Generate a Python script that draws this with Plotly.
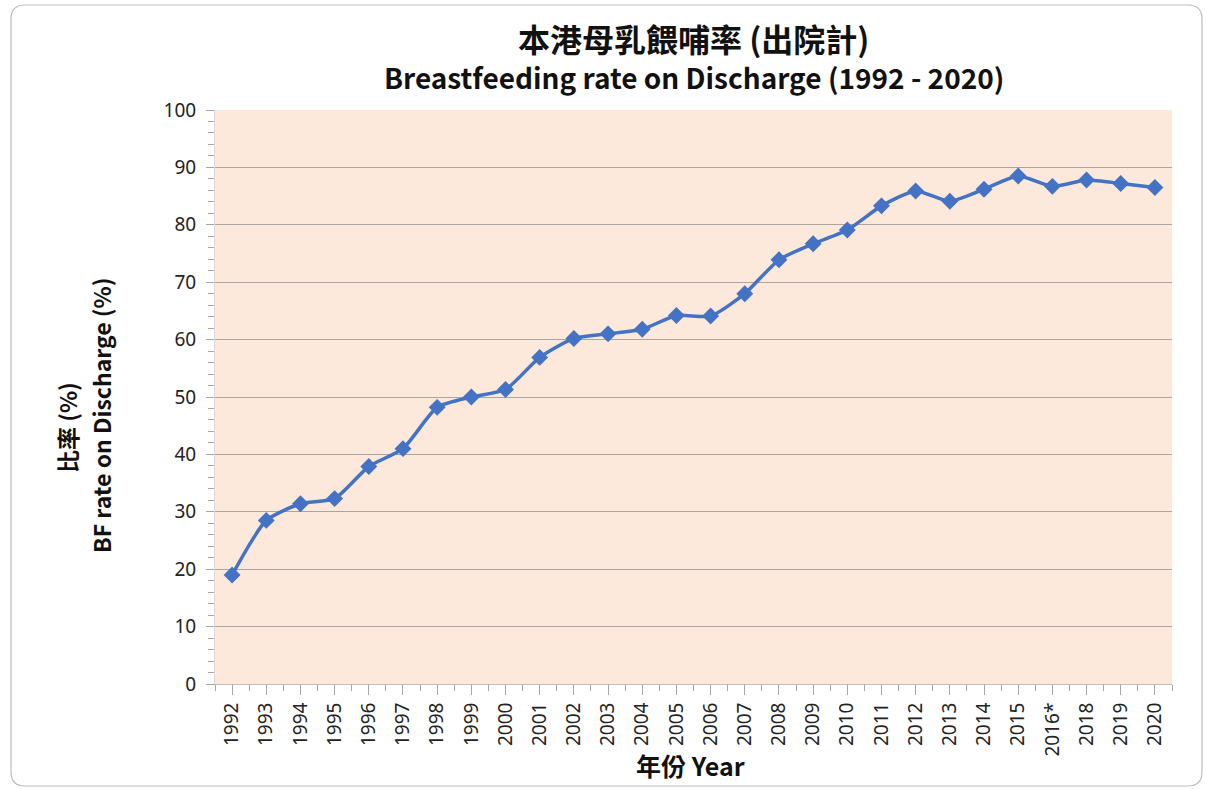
import plotly.graph_objects as go

years = ["1992", "1993", "1994", "1995", "1996", "1997", "1998", "1999", "2000",
         "2001", "2002", "2003", "2004", "2005", "2006", "2007", "2008", "2009",
         "2010", "2011", "2012", "2013", "2014", "2015", "2016*", "2018", "2019", "2020"]
bf_rate = [19.0, 28.5, 31.4, 32.3, 37.9, 41.0, 48.2, 50.0, 51.3,
           56.9, 60.2, 61.0, 61.8, 64.2, 64.1, 68.0, 73.9, 76.7,
           79.1, 83.3, 85.9, 84.1, 86.2, 88.5, 86.7, 87.8, 87.2, 86.5]

title_zh = "本港母乳餵哺率 (出院計)"
title_en = "Breastfeeding rate on Discharge (1992 - 2020)"
ytitle_zh = "比率 (%)"
ytitle_en = "BF rate on Discharge (%)"
xtitle = "年份 Year"

idx = list(range(len(years)))

W, H = 1206, 789
L, R, T, B = 215, 34, 110, 105
pw, ph = W - L - R, H - T - B

def px(x):
    return (x - L) / pw

def py(y):
    return (H - B - y) / ph

fig = go.Figure()
fig.add_trace(go.Scatter(
    x=idx, y=bf_rate, mode="lines+markers",
    line=dict(color="#4472C4", width=3.5, shape="spline", smoothing=0.6),
    marker=dict(symbol="diamond", size=13, color="#4472C4"),
    hoverinfo="x+y", showlegend=False,
))

font_txt = "Noto Sans CJK TC, Noto Sans, sans-serif"
tick_font = dict(family="Noto Sans, Open Sans, sans-serif", size=19, color="#222222")

fig.update_layout(
    width=W, height=H,
    margin=dict(l=L, r=R, t=T, b=B),
    paper_bgcolor="white",
    plot_bgcolor="#FCE9DB",
    xaxis=dict(
        range=[-0.5, len(years) - 0.5],
        tickmode="array", tickvals=idx, ticktext=years,
        tickangle=-90, tickfont=tick_font,
        ticks="outside", ticklen=10, tickcolor="#A6A6A6", tickwidth=1,
        minor=dict(tickmode="linear", tick0=-0.5, dtick=1, ticks="outside",
                   ticklen=6, tickcolor="#A6A6A6", showgrid=False),
        showgrid=False, zeroline=False,
        showline=True, linecolor="#BFBFBF", linewidth=1,
        fixedrange=True,
    ),
    yaxis=dict(
        range=[0, 100], dtick=10, tick0=0,
        tickfont=tick_font,
        ticks="outside", ticklen=8, tickcolor="#A6A6A6", tickwidth=1,
        ticklabelstandoff=6,
        minor=dict(dtick=2, ticks="outside", ticklen=6, tickcolor="#A6A6A6", showgrid=False),
        showgrid=True, gridcolor="#A9A5A2", gridwidth=1,
        zeroline=False,
        showline=True, linecolor="#D9D9D9", linewidth=1,
        fixedrange=True,
    ),
)

dark = "#111111"
fig.add_annotation(text=f"<b>{title_zh}</b>", x=0.5, y=py(38), xref="paper", yref="paper",
                   xanchor="center", yanchor="middle", showarrow=False,
                   font=dict(family=font_txt, size=32, color=dark))
fig.add_annotation(text=f"<b>{title_en}</b>", x=0.5, y=py(77), xref="paper", yref="paper",
                   xanchor="center", yanchor="middle", showarrow=False,
                   font=dict(family=font_txt, size=28, color=dark))
fig.add_annotation(text=f"<b>{ytitle_zh}</b>", x=px(67), y=py(428), xref="paper", yref="paper",
                   xanchor="center", yanchor="middle", showarrow=False, textangle=-90,
                   font=dict(family=font_txt, size=23, color=dark))
fig.add_annotation(text=f"<b>{ytitle_en}</b>", x=px(101), y=py(416), xref="paper", yref="paper",
                   xanchor="center", yanchor="middle", showarrow=False, textangle=-90,
                   font=dict(family=font_txt, size=23, color=dark))
fig.add_annotation(text=f"<b>{xtitle}</b>", x=px(690), y=py(765), xref="paper", yref="paper",
                   xanchor="center", yanchor="middle", showarrow=False,
                   font=dict(family=font_txt, size=25, color=dark))

# Rounded frame around the whole chart
x0, x1, y0, y1, r = 11, 1202, 5, 786, 14
path = (f"M {px(x0 + r)},{py(y0)} L {px(x1 - r)},{py(y0)} Q {px(x1)},{py(y0)} {px(x1)},{py(y0 + r)} "
        f"L {px(x1)},{py(y1 - r)} Q {px(x1)},{py(y1)} {px(x1 - r)},{py(y1)} "
        f"L {px(x0 + r)},{py(y1)} Q {px(x0)},{py(y1)} {px(x0)},{py(y1 - r)} "
        f"L {px(x0)},{py(y0 + r)} Q {px(x0)},{py(y0)} {px(x0 + r)},{py(y0)} Z")
fig.add_shape(type="path", path=path, xref="paper", yref="paper",
              line=dict(color="#BDBDBD", width=1.2), layer="below")

fig.write_html("out.html", config={"displayModeBar": False},
               post_script="document.body.style.margin='0px';")
